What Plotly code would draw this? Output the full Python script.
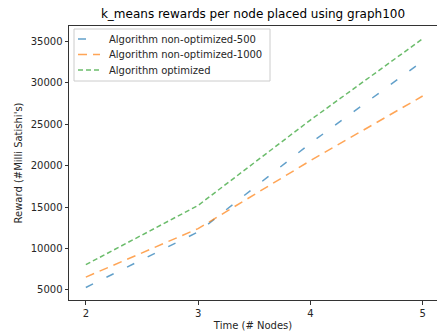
import plotly.graph_objects as go

# Nodes placed and rewards (milli-satoshis) per algorithm variant
nodes = [2, 3, 4, 5]
reward_nonopt_500 = [5300, 12000, 22700, 32600]
reward_nonopt_1000 = [6550, 12400, 20600, 28400]
reward_optimized = [8050, 15200, 25500, 35300]

series_names = [
    "Algorithm non-optimized-500",
    "Algorithm non-optimized-1000",
    "Algorithm optimized",
]
y_ticks = [5000, 10000, 15000, 20000, 25000, 30000, 35000]
x_ticks = [2, 3, 4, 5]

colors = ["rgba(31,119,180,0.7)", "rgba(255,127,14,0.7)", "rgba(44,160,44,0.7)"]
dashes = ["8px,15px", "9px,6px", "5px,3px"]

W, H = 437, 335
ML, MR, MT, MB = 69, 0, 26, 35
PW, PH = W - ML - MR, H - MT - MB


def px_to_paper(px, py):
    return (px - ML) / PW, (H - MB - py) / PH


fig = go.Figure()
for name, ys, c, d in zip(series_names,
                          [reward_nonopt_500, reward_nonopt_1000, reward_optimized],
                          colors, dashes):
    fig.add_trace(go.Scatter(x=nodes, y=ys, mode="lines", name=name,
                             line=dict(color=c, width=1.5, dash=d)))

# Legend box drawn in paper coordinates (matplotlib-style compact legend)
shapes = []
annotations = []
x0, y0 = px_to_paper(74, 29)
x1, y1 = px_to_paper(270, 81)
shapes.append(dict(type="rect", xref="paper", yref="paper",
                   x0=x0, x1=x1, y0=y1, y1=y0,
                   line=dict(color="#cccccc", width=1),
                   fillcolor="rgba(255,255,255,0.8)", layer="above"))
row_y = [39, 54.5, 70]
for name, c, d, ry in zip(series_names, colors, dashes, row_y):
    lx0, ly = px_to_paper(78, ry)
    lx1, _ = px_to_paper(100, ry)
    shapes.append(dict(type="line", xref="paper", yref="paper",
                       x0=lx0, x1=lx1, y0=ly, y1=ly, layer="above",
                       line=dict(color=c, width=1.5, dash=d)))
    tx, _ = px_to_paper(107, ry)
    annotations.append(dict(text=name, xref="paper", yref="paper", x=tx, y=ly,
                            xanchor="left", yanchor="middle", showarrow=False,
                            font=dict(size=10, color="#262626")))

font = "DejaVu Sans, sans-serif"
fig.update_layout(
    width=W, height=H,
    margin=dict(l=ML, r=MR, t=MT, b=MB),
    paper_bgcolor="white", plot_bgcolor="white",
    font=dict(family=font, size=10, color="#262626"),
    title=dict(text="k_means rewards per node placed using graph100",
               x=0.5, xanchor="center", xref="paper",
               y=1 - 14 / H, yanchor="middle",
               font=dict(size=12, color="black")),
    showlegend=False,
    shapes=shapes,
    annotations=annotations,
)
fig.update_xaxes(
    range=[1.85, 5.128], tickvals=x_ticks, ticktext=[str(v) for v in x_ticks],
    showgrid=False, zeroline=False, showline=True, linecolor="#333333",
    linewidth=1, mirror=True, ticks="outside", ticklen=3.5, tickcolor="#333333",
    title=dict(text="Time (# Nodes)", standoff=4, font=dict(size=10)),
)
fig.update_yaxes(
    range=[3790, 36845], tickvals=y_ticks, ticktext=[str(v) for v in y_ticks],
    showgrid=False, zeroline=False, showline=True, linecolor="#333333",
    linewidth=1, ticks="outside", ticklen=3.5, tickcolor="#333333",
    title=dict(text="Reward (#Milli Satishi's)", standoff=6, font=dict(size=10)),
)

fig.write_html("out.html")
